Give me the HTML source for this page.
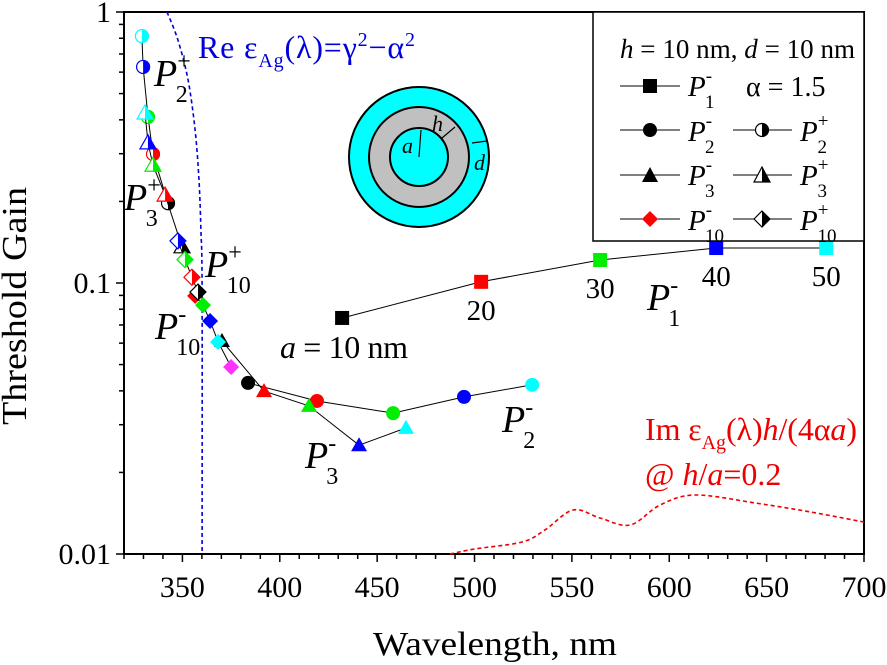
<!DOCTYPE html>
<html><head><meta charset="utf-8"><style>
body{margin:0;background:#fff}
svg{display:block;font-family:"Liberation Serif",serif}
</style></head><body>
<svg id="chart" width="887" height="665" viewBox="0 0 887 665" xmlns="http://www.w3.org/2000/svg">
<g id="plot"></g>
</svg>
<script>
const xTicks=[350,400,450,500,550,600,650,700];
const yTicks=[1,0.1,0.01];
const yTickLabels=["1","0.1","0.01"];
const p1Lambda=[432.0,503.4,564.5,624.1,680.6];
const p1Gain=[0.0743,0.101,0.1216,0.1346,0.1346];
const p1Labels=["","20","30","40","50"];
const p2mLambda=[383.7,419.1,458.2,494.6,529.6];
const p2mGain=[0.0428,0.0367,0.0331,0.0380,0.0421];
const p3mLambda=[370.3,391.9,415.0,440.7,464.8];
const p3mGain=[0.0611,0.0399,0.0352,0.0252,0.0292];
const p10mLambda=[356.5,360.6,364.2,368.3,375.0];
const p10mGain=[0.0896,0.0829,0.0724,0.0606,0.0490];
const p2pLambda=[329.2,329.8,332.3,334.9,342.6];
const p2pGain=[0.815,0.627,0.410,0.299,0.197];
const p3pLambda=[330.8,332.3,334.9,341.1,349.8];
const p3pGain=[0.424,0.329,0.272,0.211,0.136];
const p10pLambda=[347.7,351.3,354.9,358.0];
const p10pGain=[0.143,0.122,0.105,0.0926];
const reLambda=[342.1,347.7,352.9,356.5,358.5,359.5,360.1,360.1];
const reGain=[1,0.788,0.561,0.367,0.240,0.157,0.0942,0.01];
const imLambda=[487.4,500.3,524.4,536.2,550.6,564.5,579.9,595.3,613.3,644.1,672.3,700];
const imGain=[0.0100,0.01044,0.01107,0.01227,0.01453,0.01358,0.01279,0.01517,0.01651,0.01543,0.0143,0.01312];
const colors5=["#000000","#ff0000","#00ee00","#0000ff","#00ffff"];
const colors10m=["#ff0000","#00ee00","#0000ff","#00ffff","#ff33ff"];
const colors2p=["#00ffff","#0000ff","#00ee00","#ff0000","#000000"];
const colors10p=["#0000ff","#00ee00","#ff0000","#000000"];

const L=124,R=864,T=12,B=554;
const X=v=>L+(v-320)*(R-L)/380;
const Y=g=>T+(-Math.log10(g))*(B-T)/2;
const NS="http://www.w3.org/2000/svg";
const svg=document.getElementById('chart');
function mk(tag,attrs,parent){const e=document.createElementNS(NS,tag);for(const k in attrs)e.setAttribute(k,attrs[k]);(parent||svg).appendChild(e);return e;}

const inset=mk('g',{});


mk('circle',{cx:419,cy:157,r:70,fill:'#00ffff',stroke:'#000','stroke-width':2},inset);
mk('circle',{cx:419,cy:157,r:50,fill:'#c0c0c0',stroke:'#000','stroke-width':2},inset);
mk('circle',{cx:419,cy:157,r:29,fill:'#00ffff',stroke:'#000','stroke-width':2},inset);
mk('line',{x1:419,y1:157,x2:421,y2:130,stroke:'#000','stroke-width':1.2},inset);
mk('line',{x1:442,y1:138,x2:455,y2:127,stroke:'#000','stroke-width':1.2},inset);
mk('line',{x1:472,y1:143,x2:487,y2:141,stroke:'#000','stroke-width':1.2},inset);
const it=(x,y,s)=>{const t=mk('text',{x:x,y:y,'font-size':22,'font-style':'italic'},inset);t.textContent=s;return t;};
it(402,153,'a');it(432,131,'h');it(474,170,'d');

const ax=mk('g',{});


mk('rect',{x:L,y:T,width:R-L,height:B-T,fill:'none',stroke:'#000','stroke-width':2},ax);
for(let v=320;v<=700;v+=10){const big=v%50===0;mk('line',{x1:X(v),y1:B,x2:X(v),y2:B+(big?8:5),stroke:'#000','stroke-width':1.5},ax);}
xTicks.forEach(v=>{const t=mk('text',{x:X(v),y:597,'font-size':30,'text-anchor':'middle'},ax);t.textContent=v;});
for(let d=0;d<2;d++){for(let m=1;m<10;m++){const g=Math.pow(10,-2+d)*m;const big=m===1;mk('line',{x1:L,y1:Y(g),x2:L-(big?8:5),y2:Y(g),stroke:'#000','stroke-width':1.5},ax);}}
mk('line',{x1:L,y1:T,x2:L-8,y2:T,stroke:'#000','stroke-width':1.5},ax);
yTicks.forEach((g,i)=>{const t=mk('text',{x:111,y:Y(g)+10,'font-size':30,'text-anchor':'end'},ax);t.textContent=yTickLabels[i];});
const xt=mk('text',{x:495,y:655,'font-size':34,'text-anchor':'middle',textLength:244,lengthAdjust:'spacingAndGlyphs'});xt.textContent='Wavelength, nm';

const yt=mk('text',{x:0,y:0,'font-size':35,'text-anchor':'middle',textLength:238,lengthAdjust:'spacingAndGlyphs',transform:'translate(26,306) rotate(-90)'});yt.textContent='Threshold Gain';


function smooth(pts){let d='M'+pts[0][0].toFixed(1)+','+pts[0][1].toFixed(1);
  for(let i=0;i<pts.length-1;i++){const p0=pts[Math.max(0,i-1)],p1=pts[i],p2=pts[i+1],p3=pts[Math.min(pts.length-1,i+2)];
    const c1=[p1[0]+(p2[0]-p0[0])/6,p1[1]+(p2[1]-p0[1])/6],c2=[p2[0]-(p3[0]-p1[0])/6,p2[1]-(p3[1]-p1[1])/6];
    d+=` C${c1[0].toFixed(1)},${c1[1].toFixed(1)} ${c2[0].toFixed(1)},${c2[1].toFixed(1)} ${p2[0].toFixed(1)},${p2[1].toFixed(1)}`;}
  return d;}
function curve(lx,gy,color,name){const d=smooth(lx.map((v,i)=>[X(v),Y(gy[i])]));const p=mk('path',{d:d,fill:'none',stroke:color,'stroke-width':1.6,'stroke-dasharray':'4,3'});}
curve(reLambda,reGain,'#0000dd','re-epsilon-curve');
curve(imLambda,imGain,'#ee0000','im-epsilon-curve');

function line(lx,gy,name){const d=lx.map((v,i)=>(i?'L':'M')+X(v).toFixed(1)+','+Y(gy[i]).toFixed(1)).join(' ');const p=mk('path',{d:d,fill:'none',stroke:'#000','stroke-width':1});}
function marker(kind,half,x,y,c){
  const g=mk('g',{});
  const s=7;
  let shape;
  if(kind==='sq') shape=`M${x-s},${y-s}h${2*s}v${2*s}h${-2*s}Z`;
  if(kind==='tri') shape=`M${x},${y-s-1}L${x+s+1},${y+s-1}L${x-s-1},${y+s-1}Z`;
  if(kind==='dia') shape=`M${x},${y-s-1}L${x+s+1},${y}L${x},${y+s+1}L${x-s-1},${y}Z`;
  if(kind==='circ'){
    if(!half){mk('circle',{cx:x,cy:y,r:s,fill:c},g);}
    else{mk('circle',{cx:x,cy:y,r:s-0.5,fill:'#fff',stroke:c,'stroke-width':1.2},g);mk('path',{d:`M${x},${y-s}A${s},${s} 0 0 1 ${x},${y+s}Z`,fill:c},g);}
    return g;
  }
  if(!half){mk('path',{d:shape,fill:c},g);}
  else{
    mk('path',{d:shape,fill:'#fff',stroke:c,'stroke-width':1.2},g);
    let rh;
    if(kind==='tri') rh=`M${x},${y-s-1}L${x+s+1},${y+s-1}L${x},${y+s-1}Z`;
    if(kind==='dia') rh=`M${x},${y-s-1}L${x+s+1},${y}L${x},${y+s+1}Z`;
    mk('path',{d:rh,fill:c},g);
  }
  return g;
}
function series(lx,gy,cols,kind,half,name){
  line(lx,gy,name+'-line');
  lx.forEach((v,i)=>{const m=marker(kind,half,X(v),Y(gy[i]),cols[i]);
    
    });
}
series(p1Lambda,p1Gain,colors5,'sq',false,'p1-minus');
series(p2mLambda,p2mGain,colors5,'circ',false,'p2-minus');
series(p3mLambda,p3mGain,colors5,'tri',false,'p3-minus');
series(p10mLambda,p10mGain,colors10m,'dia',false,'p10-minus');
series(p2pLambda,p2pGain,colors2p,'circ',true,'p2-plus');
series(p3pLambda,p3pGain,colors2p,'tri',true,'p3-plus');
series(p10pLambda,p10pGain,colors10p,'dia',true,'p10-plus');
p1Labels.forEach((s,i)=>{if(!s)return;const t=mk('text',{x:X(p1Lambda[i]),y:Y(p1Gain[i])+38,'font-size':29,'text-anchor':'middle'});t.textContent=s;
  });
</script>

<svg style="position:absolute;left:0;top:0" width="887" height="665" xmlns="http://www.w3.org/2000/svg" font-family="Liberation Serif,serif">
<text x="198" y="58" font-size="32" fill="#0000dd" textLength="217">Re ε<tspan font-size="20" dy="9">Ag</tspan><tspan dy="-9">(λ)=γ</tspan><tspan font-size="20" dy="-12">2</tspan><tspan dy="12">−α</tspan><tspan font-size="20" dy="-12">2</tspan></text>
<text x="154" y="86" font-size="38" font-style="italic">P<tspan font-style="normal" font-size="24" dy="-17">+</tspan><tspan font-style="normal" font-size="24" dx="-15" dy="33">2</tspan></text>
<text x="124" y="210" font-size="38" font-style="italic">P<tspan font-style="normal" font-size="24" dy="-17">+</tspan><tspan font-style="normal" font-size="24" dx="-15" dy="33">3</tspan></text>
<text x="205" y="277" font-size="38" font-style="italic">P<tspan font-style="normal" font-size="24" dy="-17">+</tspan><tspan font-style="normal" font-size="24" dx="-15" dy="33">10</tspan></text>
<text x="155" y="339" font-size="38" font-style="italic">P<tspan font-style="normal" font-size="24" dy="-17">-</tspan><tspan font-style="normal" font-size="24" dx="-10" dy="33">10</tspan></text>
<text x="280" y="358" font-size="32" textLength="128"><tspan font-style="italic">a</tspan> = 10 nm</text>
<text x="305" y="468" font-size="38" font-style="italic">P<tspan font-style="normal" font-size="24" dy="-17">-</tspan><tspan font-style="normal" font-size="24" dx="-10" dy="33">3</tspan></text>
<text x="502" y="432" font-size="38" font-style="italic">P<tspan font-style="normal" font-size="24" dy="-17">-</tspan><tspan font-style="normal" font-size="24" dx="-10" dy="33">2</tspan></text>
<text x="647" y="310" font-size="38" font-style="italic">P<tspan font-style="normal" font-size="24" dy="-17">-</tspan><tspan font-style="normal" font-size="24" dx="-10" dy="33">1</tspan></text>
<text x="645" y="440" font-size="32" fill="#ee0000" textLength="212">Im ε<tspan font-size="20" dy="9">Ag</tspan><tspan dy="-9">(λ)</tspan><tspan font-style="italic">h</tspan>/(4α<tspan font-style="italic">a</tspan>)</text>
<text x="645" y="485" font-size="32" fill="#ee0000">@ <tspan font-style="italic">h</tspan>/<tspan font-style="italic">a</tspan>=0.2</text>
<g>
<rect x="593" y="12" width="271" height="229" fill="#fff" stroke="#000" stroke-width="1.5"/>
<text x="620" y="58" font-size="27" textLength="235"><tspan font-style="italic">h</tspan> = 10 nm, <tspan font-style="italic">d</tspan> = 10 nm</text>
<g stroke="#000" stroke-width="1"><line x1="620" y1="86" x2="680" y2="86"/><line x1="620" y1="130" x2="680" y2="130"/><line x1="620" y1="175" x2="680" y2="175"/><line x1="620" y1="219" x2="680" y2="219"/><line x1="733" y1="130" x2="792" y2="130"/><line x1="733" y1="175" x2="792" y2="175"/><line x1="733" y1="219" x2="792" y2="219"/></g>
<rect x="643" y="79" width="14" height="14" fill="#000"/>
<circle cx="650" cy="130" r="7" fill="#000"/>
<path d="M650,167L658,182L642,182Z" fill="#000"/>
<path d="M650,211L658,219L650,227L642,219Z" fill="#ff0000"/>
<circle cx="762" cy="130" r="6.5" fill="#fff" stroke="#000" stroke-width="1.2"/><path d="M762,123A7,7 0 0 1 762,137Z" fill="#000"/>
<path d="M762,167L770,182L754,182Z" fill="#fff" stroke="#000" stroke-width="1.2"/><path d="M762,167L770,182L762,182Z" fill="#000"/>
<path d="M762,211L770,219L762,227L754,219Z" fill="#fff" stroke="#000" stroke-width="1.2"/><path d="M762,211L770,219L762,227Z" fill="#000"/>
<g font-size="29" font-style="italic">
<text x="688" y="96">P<tspan font-style="normal" font-size="19" dy="-14">-</tspan><tspan font-style="normal" font-size="19" dx="-7" dy="26">1</tspan></text>
<text x="688" y="141">P<tspan font-style="normal" font-size="19" dy="-14">-</tspan><tspan font-style="normal" font-size="19" dx="-7" dy="26">2</tspan></text>
<text x="688" y="185">P<tspan font-style="normal" font-size="19" dy="-14">-</tspan><tspan font-style="normal" font-size="19" dx="-7" dy="26">3</tspan></text>
<text x="688" y="230">P<tspan font-style="normal" font-size="19" dy="-14">-</tspan><tspan font-style="normal" font-size="19" dx="-7" dy="26">10</tspan></text>
<text x="800" y="141">P<tspan font-style="normal" font-size="19" dy="-14">+</tspan><tspan font-style="normal" font-size="19" dx="-11" dy="26">2</tspan></text>
<text x="800" y="185">P<tspan font-style="normal" font-size="19" dy="-14">+</tspan><tspan font-style="normal" font-size="19" dx="-11" dy="26">3</tspan></text>
<text x="800" y="230">P<tspan font-style="normal" font-size="19" dy="-14">+</tspan><tspan font-style="normal" font-size="19" dx="-11" dy="26">10</tspan></text>
</g>
<text x="746" y="96" font-size="28">α = 1.5</text>
</g>
</svg>
</body></html>
